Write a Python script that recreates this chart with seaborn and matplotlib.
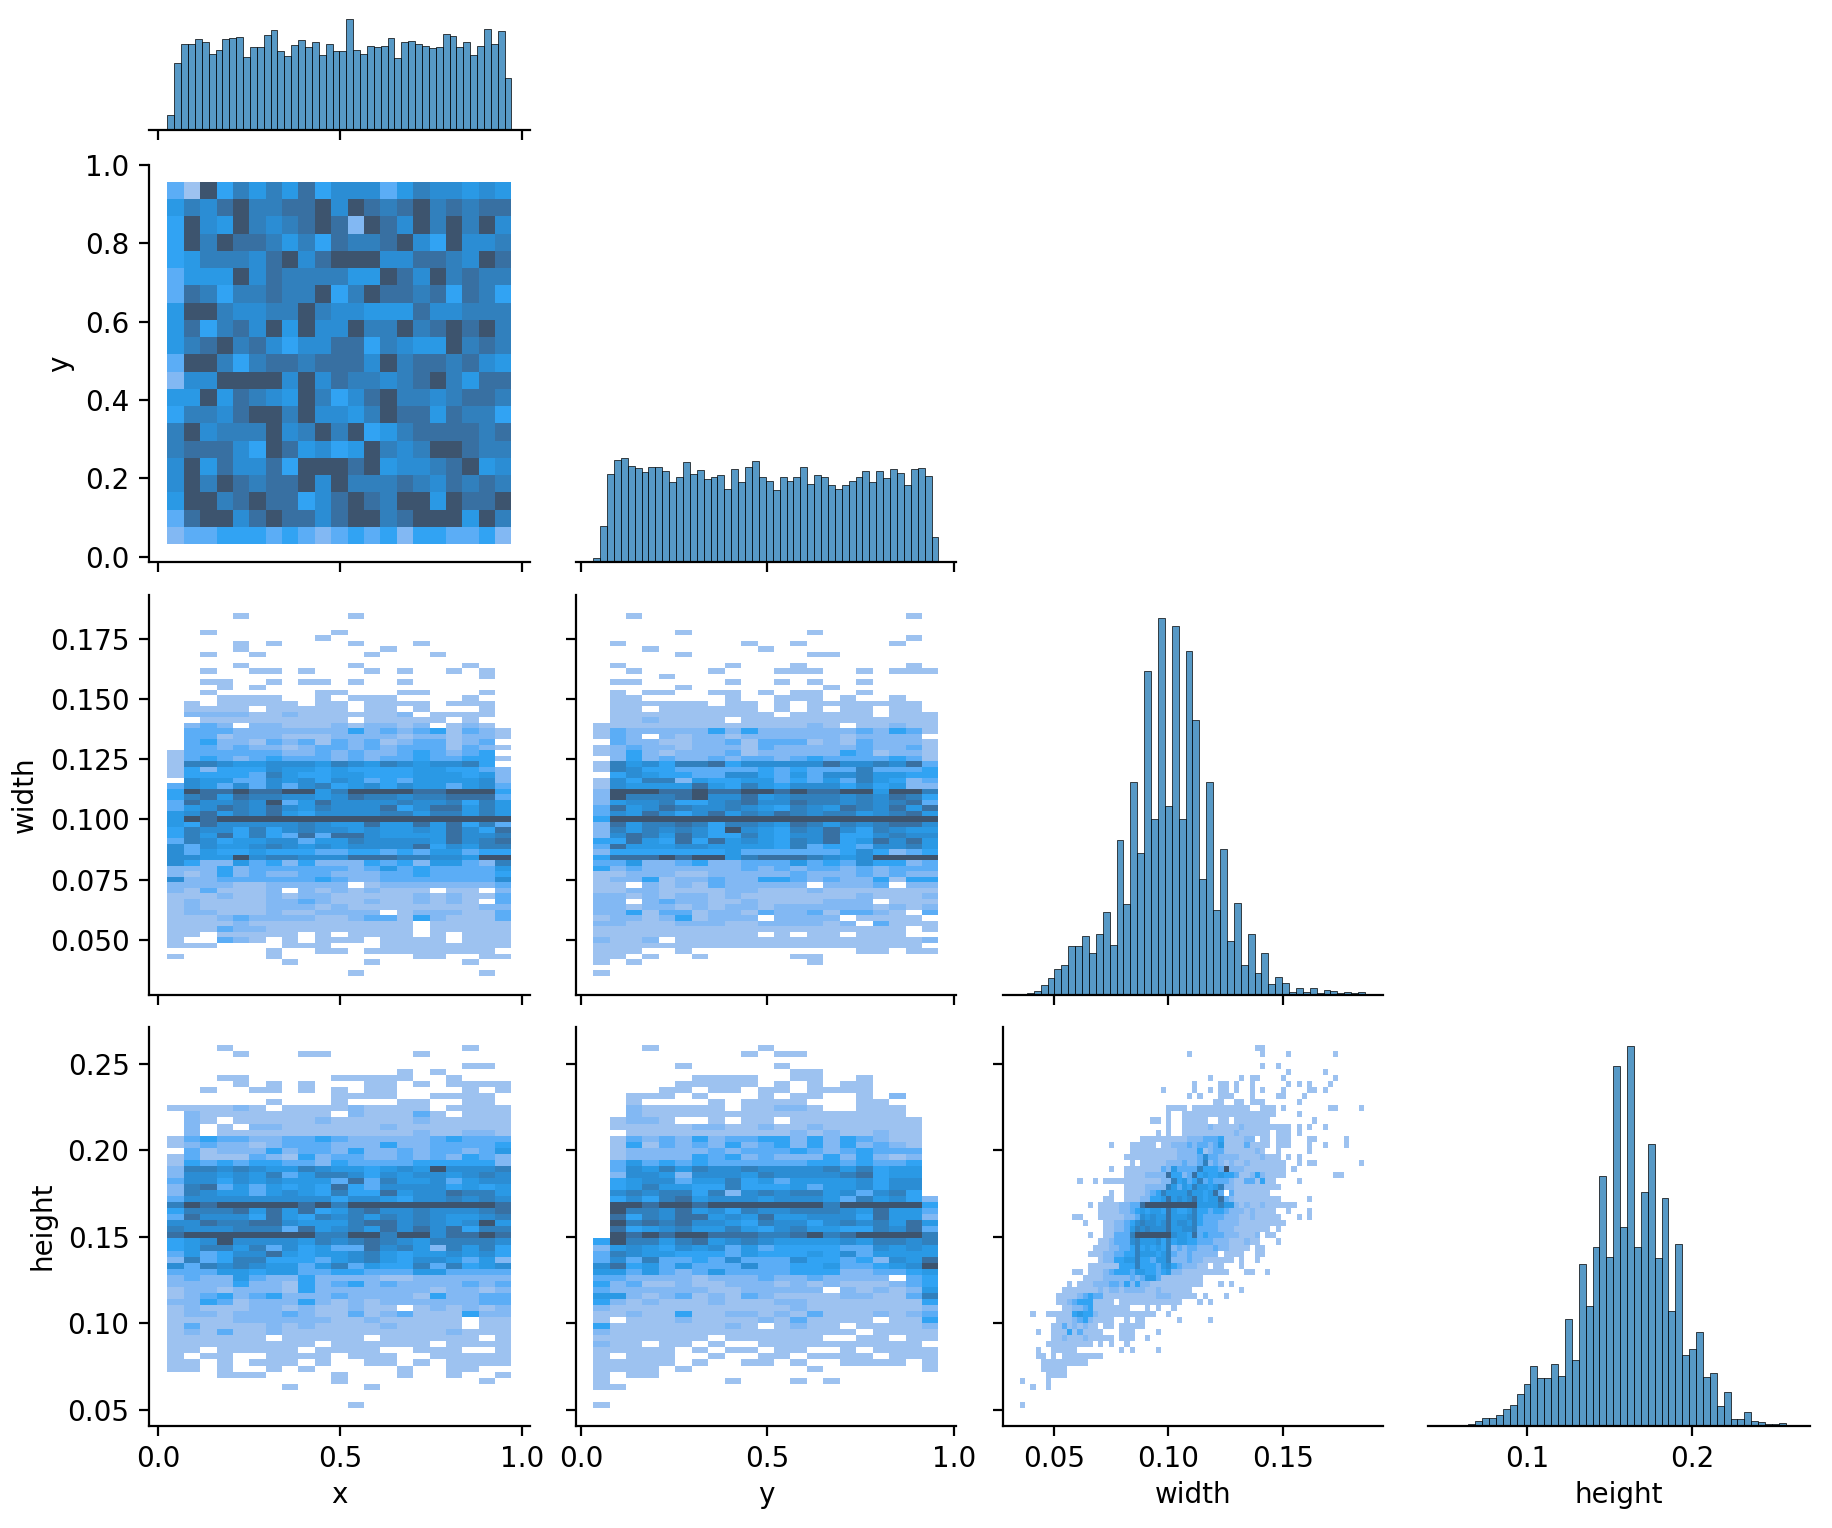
import matplotlib
matplotlib.use("Agg")
import matplotlib.pyplot as plt
import numpy as np
import seaborn as sns

# Bin counts of the four marginal distributions (arbitrary count units)
X_COUNTS = [46,202,259,259,274,265,229,241,274,277,280,220,250,250,286,301,238,223,256,271,
            250,265,226,259,238,238,334,241,229,253,250,253,277,217,265,268,259,253,247,250,
            289,283,250,265,226,253,304,259,298,157]
Y_COUNTS = [13,109,265,307,313,289,283,271,286,286,274,241,256,301,265,277,250,256,262,220,
            280,241,286,304,256,244,217,256,244,256,286,235,262,256,232,220,232,244,256,274,
            241,274,253,280,268,232,280,283,259,76]
WIDTH_COUNTS = [4,5,13,31,52,79,91,148,148,178,127,184,250,151,466,274,637,427,970,529,
                1129,568,1105,527,1030,823,349,637,256,439,163,277,91,184,67,127,34,55,37,8,
                20,8,22,5,14,11,6,8,5,8]
HEIGHT_COUNTS = [1,0,0,0,6,13,22,22,31,49,61,94,124,178,142,142,184,148,319,196,
                 484,358,535,748,505,1078,595,1138,535,700,844,502,682,343,544,211,229,280,145,157,
                 58,100,19,19,40,13,10,4,4,8]

X_RANGE = (0.025, 0.971)
Y_RANGE = (0.033, 0.958)
Y_CELL_RANGE = (0.0324, 0.9566)
WIDTH_RANGE = (0.0352, 0.1856)
HEIGHT_RANGE = (0.0513, 0.2608)
HEIGHT_HIST_RANGE = (0.0477, 0.2568)

# Cell counts behind each digit used in the two-dimensional tables below
LEVEL_COUNTS = [0, 6, 15, 25, 35, 43, 52, 63, 76, 100]

# Two-dimensional counts, one string per row from the top, one digit per cell
XY_ROWS = [
"319475758466635766565","576897788969878978788","496597678982986979796","497988757487789649667",
"457776896899966887698","355596877775598697877","387477877947988784874","599766779766555866777",
"584786959669779789897","578978646688476559787","399747887888697887865","266999969687767897588",
"559587659746897767887","477689979665798858774","796777967979457888878","788864985645976799877",
"695866849998956678956","697987889697778768787","599789884689879959889","389968988689978999597",
"233444343234342443342",
]
XW_ROWS = [
"000010000001000000000","0","0","001000000010000000000","000000000100000000000","000010100001000100000",
"000010000000010000000","001001000000100010000","0","000010000001000000100","001001101000101001010",
"000000000000000000010","001100101101001000000","000101000000000000000","001000000110001100010",
"000111100101110000100","010111110110111101110","011110111110110100010","022221121111112011110",
"001111111110111110100","023202211121221201210","033322222224232341321","033122211122221221221",
"034221323132312331230","033232212332323331321","133333322323223432340","134323433323233433441",
"177655666576576566740","142444655454444554432","144443754455444555452","065533656465343555562",
"365363636745646553563","498898899579999889994","478587766568776778883","386676935866667667475",
"356876865766684688575","568576854666677577575","598999999999999999999","548666667655855858473",
"476647467665655658648","475847438388655558667","376455663557666658678","636556765656666846577",
"635445444334434355344","665596776668887766599","642253424222434255327","222423333332353433335",
"212423223322233433334","622333333432233333336","222211222220122222223","213111202121211101102",
"111211212211111212113","121111223211211212103","121111222121111111122","122111211222201222113",
"111232222112331421113","111121111111111011111","111322111111111011111","110111110101111010111",
"100321010111011110111","111000011100011111111","000000100110111111110","100000100000000110011",
"000000010000100000100","0","000000000001000000010",
]
YW_ROWS = [
"001000000000000000010","0","0","000001000000010000000","000000000000000000010","010000000100100000100",
"000100000010000000000","000001000000011000000","0","010000001000100000010","001000010001110010111",
"000010000000000000000","011000001001010010000","000001000000001000000","010110011010110010000",
"011000001001110100100","011111101101011111110","011011111101010110110","011111111110111110111",
"011211110111111111111","111111111111121011211","132222242422222232431","132021221222222122220",
"032211223133312132221","123221222132222232231","124212223122222431221","024232232332343333431",
"175647784666668667683","176443333343433373334","046544336643536675544","164772544553435375423",
"165555854754666464522","299988988998988995997","297778966856777676874","256674467866877676783",
"385687667654765876858","365864685768767756785","499999999999999999999","285778747765875767886",
"275767649654768647655","268758644754668446766","448548485654768458685","385556655554734436675",
"244444445333333464234","488898995788876569999","335223422333534364423","423222222323233232333",
"112221122222322232322","122412232244323224144","110212132222202223022","112211112211121111111",
"221212212111111121112","220232211211112220111","221221212212222221212","224133122132231332103",
"122124122202222011110","221112221122221203111","111111111111111111101","111111111101011011100",
"211201111111111111112","111111111111111111110","111001000000000011011","110100100000110000000",
"101000000000010000000","0","100000000000000000000",
]
XH_ROWS = [
"000100000000000000100","000010001100000100000","0","000000000000000000110","000000000000001010000",
"000110000011111001000","000010101000110101111","001001101010110000101","000000000011110011110",
"000000100010001100110","111121011112111101111","021111111102111310111","021011111211111211111",
"020102211111121111111","020111111111111211221","134332233432222234333","123221233322242233334",
"031222423324223233235","131113214233223232432","143434433243333444442","277676557655456596667",
"266565735776465665676","366465655538375563566","278353545484366664545","276553565474485668775",
"366666666646654667676","798999998979999999998","477785858457866766678","386664854767576765567",
"668778865557886765695","766677738567586868477","899999999779979968898","456966665767876577776",
"457757364533867527574","353466854556754556564","273477444356754665352","637676553573544737456",
"333554553344333553333","232253224222211222222","222242214234232222323","122122214222222212212",
"123423422232222142233","224312224212122222233","121112212112110121212","122122232113123111422",
"111122222211211111011","131111212111121111011","121311211111111112111","111111011111011111101",
"111111111011111101111","110111110111100111001","101100111101110011111","110101110100110101111",
"110100101000001001100","000111000010001001001","000000000010000000010","000000010000100000000",
"0","0","000000000001000000000",
]
YH_ROWS = [
"000100000010000000000","000000000101100000000","0","000001000001000000000","000000000000110000000",
"000000111100110010000","000001111101010110000","000011011011011110000","001110100010110010200",
"001000010111100011000","002111110112210011100","002111111111111111100","012210010110111111110",
"011111221121121111110","001111111111212112110","013232423344242432110","014132324234242423210",
"012222232333432343330","012222434232224242120","035343433333344343340","036575766766667574550",
"026652666576666784550","045663557453555564660","045755447444535564660","067677472676775636740",
"046478566656665375642","099899899999997999994","097768564766777658553","084768856585566648552",
"097878665476646767585","084567557546755447683","098989988877897899997","497757856765555657767",
"256546563534444336565","376554443544454635555","363733436333644342658","684535333633445334569",
"553532353333444223345","332222122232232222034","423112112221212111234","322222211222220212125",
"552123121321111221137","421211121112211111114","211111111111211111112","112114112212131112123",
"101112111121311110114","411111112101211011112","211111111111111101111","111111101111110011011",
"211011010011111111110","111110101101100101111","101110010011011110111","111110100110100111101",
"111101000000010000001","101100000000000000000","100000001000101000000","110000000000000000000",
"0","0","100000000000000000000",
]
# Width against height is sparse: (row from top, first column, digits)
WH_RUNS = [
(0,45,"11"),(1,32,"1"),(1,46,"1"),(1,51,"1"),(1,60,"1"),(3,46,"1"),(3,49,"1"),(4,51,"1"),(4,58,"1"),
(5,36,"1"),(5,42,"1"),(5,44,"11"),(5,50,"1"),(5,60,"1"),
(6,33,"1"),(6,38,"11"),(6,41,"1"),(6,44,"1"),(6,51,"1"),(6,53,"1"),(6,55,"1"),(6,59,"1"),
(7,27,"1"),(7,33,"1"),(7,36,"1"),(7,38,"11"),(7,41,"1"),(7,44,"1"),(7,46,"1"),(7,50,"1"),(7,55,"11"),(7,58,"1"),
(8,32,"1"),(8,34,"1"),(8,38,"111"),(8,44,"1"),(8,49,"11"),(8,54,"1"),
(9,37,"11"),(9,41,"11"),(9,44,"111"),(9,53,"1"),
(10,28,"1111"),(10,33,"11111111111"),(10,46,"111"),(10,50,"1"),(10,59,"11"),(10,65,"1"),
(11,28,"1"),(11,31,"111111111111111111"),(11,53,"1"),
(12,25,"11"),(12,28,"1"),(12,31,"11111"),(12,38,"11"),(12,41,"1111111"),(12,56,"1"),
(13,28,"1"),(13,31,"111112111112111111"),(13,49,"111"),(13,53,"1"),(13,55,"1"),(13,58,"1"),
(14,26,"1"),(14,28,"1"),(14,31,"11111111112111111"),(14,49,"111"),(14,53,"1"),
(15,23,"111111"),(15,29,"1112223334111122 11"),(15,49,"111"),(15,55,"11"),(15,62,"1"),
(16,17,"1"),(16,21,"11"),(16,23,"111"),(16,27,"112223233235111131111"),(16,49,"111"),(16,55,"1"),(16,58,"1"),(16,62,"1"),
(17,21,"1"),(17,22,"1111111"),(17,29,"122224123311111121"),(17,49,"1"),(17,55,"1"),
(18,20,"111"),(18,23,"111111122223633222211112111"),(18,48,"1"),(18,51,"1"),(18,53,"1"),
(19,21,"1"),(19,23,"1111122232237232121121111111"),(19,53,"1"),(19,55,"11"),(19,65,"1"),
(20,17,"1"),(20,20,"1111111325333374443922211111111"),(20,52,"1"),
(21,20,"1111222284423845445443112421111"),(21,60,"11"),
(22,11,"1"),(22,14,"1"),(22,16,"11111"),(22,21,"1111112274534734333211331411"),(22,53,"1"),
(23,20,"111122227535475545722111111111"),
(24,17,"1"),(24,20,"1111234755557554583031111111"),
(25,16,"11"),(25,20,"111224458565685455832111111111"),(25,55,"1"),
(26,13,"1"),(26,15,"11112233899999999995555755212112111111"),(26,52,"1"),
(27,15,"1111223454554854457443443222121111"),(27,51,"1"),(27,55,"1"),
(28,10,"11"),(28,15,"11111223656558555674333322211211111"),(28,53,"1"),(28,55,"1"),
(29,12,"1"),(29,16,"11223467665685665743332222111111111"),
(30,16,"11223576766685566733332221111111 1"),
(31,13,"1"),(31,16,"113337999999965548343332221112 11"),
(32,15,"1123336755564745544333222111211"),(32,49,"1"),
(33,14,"111223347454547232332223221111"),(33,45,"11"),
(34,13,"1112233447555457322322222 1"),(34,40,"111"),(34,45,"11"),
(35,15,"12244557443557222322111111"),(35,42,"1"),(35,45,"1"),
(36,13,"11111144474443564322211 11"),(36,42,"1"),
(37,10,"11"),(37,13,"111234443554434522111111111"),(37,38,"1"),(37,43,"11"),(37,47,"1"),
(38,12,"11112222232355311111111"),
(39,9,"1"),(39,11,"111222332424221111111111"),(39,38,"1"),(39,40,"1"),
(40,8,"111111121221222211211111"),(40,32,"1"),(40,42,"1"),
(41,7,"11112343311"),(41,18,"1111111122211111"),(41,35,"1"),(41,39,"1"),
(42,7,"11234441111"),(42,19,"111111111111"),(42,34,"1"),(42,36,"1"),
(43,8,"1122341111111"),(43,24,"1"),(43,26,"1"),(43,29,"1"),
(44,2,"1"),(44,5,"111114544211111111111"),(44,28,"1"),
(45,7,"11123421111"),(45,20,"1"),(45,22,"11"),(45,30,"1"),(45,36,"1"),
(46,6,"113121211011"),(46,19,"11111"),
(47,3,"1"),(47,6,"1114131"),(47,13,"111"),(47,19,"111"),(47,26,"1"),
(48,6,"112111211111"),(48,19,"111"),(48,24,"1"),
(49,5,"111111111"),(49,15,"1"),(49,17,"1"),(49,20,"1"),
(50,3,"1"),(50,6,"11111"),(50,19,"1"),(50,21,"1"),(50,26,"1"),
(51,3,"11"),(51,6,"1"),(51,8,"11111111"),
(52,4,"1111"),(52,8,"11111"),
(53,4,"11111"),(54,5,"1111"),(55,0,"1"),(55,5,"1"),(56,2,"1"),(56,5,"1"),(59,0,"1"),
]

VARIABLES = ["x", "y", "width", "height"]


def digit_grid(rows, ncols):
    """Turn digit strings (top row first) into a count matrix indexed [row, col] from the bottom."""
    grid = [[LEVEL_COUNTS[int(c)] for c in row.ljust(ncols, "0")[:ncols]] for row in rows]
    return np.array(grid[::-1], dtype=float)


def run_grid(runs, nrows, ncols):
    grid = np.zeros((nrows, ncols))
    for row, col, digits in runs:
        for k, c in enumerate(digits):
            if c != " " and col + k < ncols:
                grid[nrows - 1 - row, col + k] = LEVEL_COUNTS[int(c)]
    return grid


def add_axes(fig, left, top, right, bottom):
    W, H = fig.get_size_inches() * fig.dpi
    ax = fig.add_axes([left / W, 1 - bottom / H, (right - left) / W, (bottom - top) / H])
    sns.despine(ax=ax)
    return ax


def draw_cells(ax, grid, x_range, y_range):
    ny, nx = grid.shape
    xe = np.linspace(*x_range, nx + 1)
    ye = np.linspace(*y_range, ny + 1)
    xc, yc = np.meshgrid((xe[:-1] + xe[1:]) / 2, (ye[:-1] + ye[1:]) / 2)
    sns.histplot(x=xc.ravel(), y=yc.ravel(), weights=grid.ravel(), bins=[xe, ye], ax=ax)
    ax.set_xlabel("")
    ax.set_ylabel("")


def draw_marginal(ax, counts, value_range):
    edges = np.linspace(*value_range, len(counts) + 1)
    centers = (edges[:-1] + edges[1:]) / 2
    sns.histplot(x=centers, weights=counts, bins=edges.tolist(), ax=ax)
    ax.set_xlabel("")
    ax.set_ylabel("")
    ax.spines["left"].set_visible(False)
    ax.set_yticks([])


fig = plt.figure(figsize=(9.165, 7.64), dpi=200)

COLS = [(149, 530), (576, 956), (1003, 1383), (1428, 1810)]
ROWS = [(0, 130), (165, 562), (595, 995), (1026.5, 1425.7)]
XLIMS = [(-0.0256, 1.022), (-0.013, 1.005), (0.0278, 0.1937), (0.04, 0.2715)]
YLIMS = [None, (-0.0135, 1.0), (0.0272, 0.1931), (0.041, 0.2714)]
XTICKS = [[0, 0.5, 1.0], [0, 0.5, 1.0], [0.05, 0.10, 0.15], [0.1, 0.2]]
YTICKS = [None, [0, 0.2, 0.4, 0.6, 0.8, 1.0], [0.05, 0.075, 0.1, 0.125, 0.15, 0.175],
          [0.05, 0.1, 0.15, 0.2, 0.25]]
XFMT = ["%.1f", "%.1f", "%.2f", "%.1f"]
YFMT = [None, "%.1f", "%.3f", "%.2f"]
DIAG_TOPS = [390, 1191, 1199, 1197]

panels = {
    (1, 0): (digit_grid(XY_ROWS, 21), X_RANGE, Y_CELL_RANGE),
    (2, 0): (digit_grid(XW_ROWS, 21), X_RANGE, WIDTH_RANGE),
    (2, 1): (digit_grid(YW_ROWS, 21), Y_RANGE, WIDTH_RANGE),
    (3, 0): (digit_grid(XH_ROWS, 21), X_RANGE, HEIGHT_RANGE),
    (3, 1): (digit_grid(YH_ROWS, 21), Y_RANGE, HEIGHT_RANGE),
    (3, 2): (run_grid(WH_RUNS, 60, 66), WIDTH_RANGE, HEIGHT_RANGE),
}
diagonals = [(X_COUNTS, X_RANGE), (Y_COUNTS, Y_RANGE), (WIDTH_COUNTS, (0.0352, 0.1858)),
             (HEIGHT_COUNTS, HEIGHT_HIST_RANGE)]

for r in range(4):
    for c in range(r + 1):
        ax = add_axes(fig, COLS[c][0], ROWS[r][0], COLS[c][1], ROWS[r][1])
        if r == c:
            draw_marginal(ax, *diagonals[r])
            ax.set_ylim(0, DIAG_TOPS[r])
        else:
            draw_cells(ax, *panels[(r, c)])
            ax.set_yticks(YTICKS[r])
            ax.set_ylim(*YLIMS[r])
            if c == 0:
                ax.set_yticklabels([YFMT[r] % t for t in YTICKS[r]])
                ax.set_ylabel(VARIABLES[r])
            else:
                ax.set_yticklabels([])
        ax.set_xticks(XTICKS[c])
        ax.set_xlim(*XLIMS[c])
        if r == 3:
            ax.set_xticklabels([XFMT[c] % t for t in XTICKS[c]])
            ax.set_xlabel(VARIABLES[c], labelpad=2.8)
        else:
            ax.set_xticklabels([])

fig.savefig("out.png", dpi=200)
